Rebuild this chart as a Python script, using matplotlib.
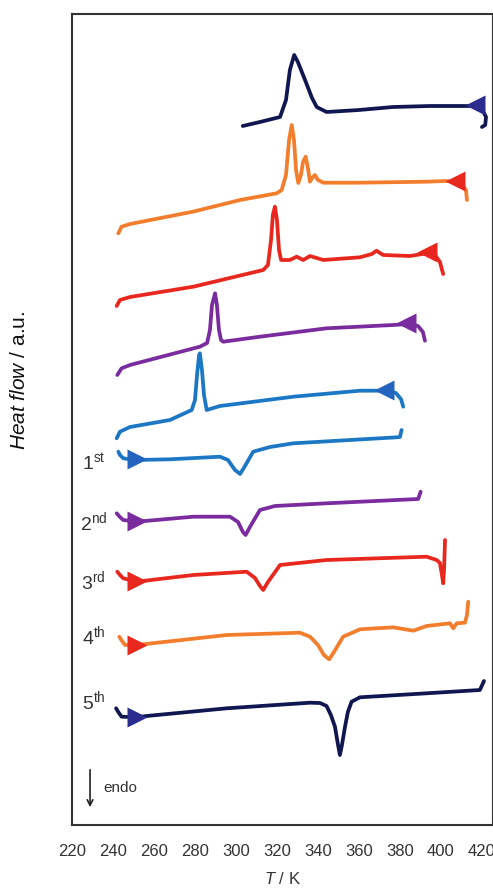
import matplotlib
matplotlib.use("Agg")
import matplotlib.pyplot as plt

plt.rcParams['font.family'] = ['Liberation Sans', 'DejaVu Sans']
plt.rcParams['mathtext.fontset'] = 'custom'
plt.rcParams['mathtext.rm'] = 'Liberation Sans'
plt.rcParams['mathtext.it'] = 'Liberation Sans:italic'

# colours
navy = '#0f1650'
orange = '#f27d2c'
red = '#e8281f'
purple = '#7a2c9e'
blue = '#1c78c4'
navy_tri = '#2a2d8e'
blue_tri = '#2464bf'

# cooling curves (top), temperature in K, heat flow in a.u.
c5_T = [303.3, 311.7, 321.5, 324.4, 326.3, 328.4, 330.2, 333.7, 337.1, 339.4, 344.2, 360.0, 376.6, 394.6, 409.3, 416.6, 420.0, 422.0, 421.6, 420.0]
c5_y = [699, 703, 708, 725, 755, 770, 763, 745, 727, 718, 713, 715, 718, 719, 719, 719, 716, 708, 700, 698]

c4_T = [242.6, 244.2, 248.3, 279.0, 302.0, 319.9, 322.3, 324.4, 325.9, 327.2, 328.3, 329.3, 330.4, 331.7, 332.7, 334.0, 335.1, 336.1, 337.1, 338.5, 340.0, 342.6, 360.5, 393.0, 402.0, 406.8, 410.2, 412.2, 412.7]
c4_y = [591.7, 598.3, 601, 613.3, 625, 631.7, 635, 650, 685, 700, 685, 655, 642, 650, 663, 668.3, 657, 643.3, 647, 650, 645, 642.3, 642.3, 643.3, 644, 643.3, 641, 635, 625]

c3_T = [241.8, 243.4, 248.3, 279.2, 313.3, 315.6, 317.1, 318.0, 319.0, 320.0, 321.0, 322.0, 326.3, 329.6, 332.8, 336.1, 342.6, 360.5, 366.3, 368.6, 370.2, 371.9, 384.9, 393.0, 397.1, 399.5, 401.1]
c3_y = [519, 525, 528, 538.3, 555, 560, 585, 610, 618.3, 605, 575, 565, 565, 568.3, 565, 569, 565, 567.7, 571, 574.3, 572, 570, 569, 571.7, 570, 563, 551]

c2_T = [242.1, 244.2, 248.3, 282.4, 285.9, 287.3, 288.3, 289.8, 290.7, 291.7, 292.7, 293.8, 311.7, 344.2, 376.7, 384.0, 388.8, 391.2, 392.2]
c2_y = [450, 456.7, 460, 478.3, 482, 495, 520, 531.7, 520, 495, 485, 483.3, 488.3, 496.7, 500, 501, 499, 493, 484.3]

c1_T = [241.8, 243.4, 248.3, 267.8, 278.4, 280.0, 281.0, 282.0, 282.4, 283.4, 284.4, 285.7, 292.2, 328.0, 360.5, 373.5, 378.0, 380.5, 381.6]
c1_y = [386.7, 393.3, 398, 405, 415, 425, 450, 470, 471.7, 455, 430, 415, 419, 428.3, 434.3, 434.3, 432, 426, 418.3]

# heating curves (bottom)
h1_T = [242.6, 243.4, 245.0, 250.7, 267.8, 292.2, 296.1, 299.5, 302.0, 304.4, 308.4, 316.6, 328.0, 378.4, 380.0, 380.8]
h1_y = [373.3, 370, 366.7, 365, 365.7, 368.3, 365, 355, 351, 359, 373.3, 378, 381.7, 387.7, 388, 395]

h2_T = [241.8, 243.4, 245.0, 251.6, 279.2, 297.1, 301.0, 303.4, 304.7, 306.8, 311.7, 319.0, 344.2, 388.9, 390.1]
h2_y = [311.7, 308, 305, 303.3, 308.3, 308.3, 303, 293, 290, 298, 315, 319, 321.7, 326, 333.3]

h3_T = [242.1, 243.4, 245.0, 251.6, 279.2, 305.2, 309.3, 311.7, 313.3, 315.6, 321.5, 344.2, 393.0, 397.9, 399.5, 400.5, 401.1, 401.5, 402.0]
h3_y = [253.3, 250, 246.7, 243.3, 250, 253.3, 247, 239, 235, 243, 260, 265, 268.3, 265, 262, 250, 241.7, 255, 285]

h4_T = [243.1, 244.4, 245.9, 251.6, 295.5, 331.2, 336.1, 340.0, 342.9, 345.5, 347.8, 352.3, 360.5, 376.7, 386.5, 393.0, 404.4, 406.0, 407.7, 411.7, 412.7, 413.3]
h4_y = [188.3, 184, 180, 180, 190, 192.3, 188.3, 180, 170, 165.7, 173, 188.3, 195.7, 197.7, 194.3, 199, 201.7, 196.7, 201.7, 202.3, 210, 223.3]

h5_T = [241.5, 242.9, 244.2, 251.6, 256.4, 295.5, 336.1, 341.0, 344.2, 346.3, 348.3, 349.8, 350.7, 351.7, 353.2, 354.6, 356.4, 360.5, 393.0, 419.0, 421.0]
h5_y = [116.7, 112, 108.3, 107.7, 109, 116.7, 122.3, 122, 119, 110, 98.3, 80, 70, 80, 98.3, 113, 123.3, 127.7, 131.7, 135, 144]

# direction arrows on each curve
cool_arrow_T = [416.6, 406.8, 393.2, 382.9, 372.2]
cool_arrow_y = [720, 644, 573, 502, 435]
heat_arrow_T = [251.7, 251.7, 251.7, 251.7, 251.7]
heat_arrow_y = [366, 304, 244, 180, 108]

cool_curves = [(c5_T, c5_y, navy), (c4_T, c4_y, orange), (c3_T, c3_y, red), (c2_T, c2_y, purple), (c1_T, c1_y, blue)]
heat_curves = [(h1_T, h1_y, blue), (h2_T, h2_y, purple), (h3_T, h3_y, red), (h4_T, h4_y, orange), (h5_T, h5_y, navy)]
cool_tri = [navy_tri, red, red, purple, blue_tri]
heat_tri = [blue_tri, purple, red, red, navy_tri]

cycle_labels = ['1', '2', '3', '4', '5']
cycle_sup = ['st', 'nd', 'rd', 'th', 'th']
label_y = [362, 303, 244, 189, 124]

fig = plt.figure(figsize=(4.93, 8.89), dpi=100)
ax = fig.add_axes([72 / 493, 64 / 889, 421 / 493, 811 / 889])

for T, y, c in cool_curves + heat_curves:
    ax.plot(T, y, color=c, lw=2.7, solid_joinstyle='round', solid_capstyle='round')

for i in range(5):
    ax.plot(cool_arrow_T[i], cool_arrow_y[i], marker='<', ms=14, color=cool_tri[i], mec='none')
    ax.plot(heat_arrow_T[i], heat_arrow_y[i], marker='>', ms=14, color=heat_tri[i], mec='none')
    ax.text(230.5, label_y[i], cycle_labels[i] + r'$^{\mathrm{' + cycle_sup[i] + '}}$',
            fontsize=14, color='#333333', ha='center', va='center')

# endo marker
ax.annotate('', xy=(228.8, 15), xytext=(228.8, 58),
            arrowprops=dict(arrowstyle='->', color='#222222', lw=1.2))
ax.text(235.5, 37, 'endo', fontsize=11, color='#333333', ha='left', va='center')

ax.set_xlim(220, 425.4)
ax.set_ylim(0, 811)
ax.set_xticks(range(220, 421, 20))
ax.set_yticks([])
ax.tick_params(axis='x', length=0, pad=14, labelsize=12, labelcolor='#333333')
for s in ax.spines.values():
    s.set_color('#333333')
    s.set_linewidth(1.5)

ax.set_xlabel(r'$T$ / K', fontsize=12, color='#333333', labelpad=8)
fig.text(20 / 493, 1 - 380 / 889, r'$Heat\ flow$ / a.u.', rotation=90, fontsize=15,
         ha='center', va='center', color='#111111')

fig.savefig('out.png', dpi=100)
